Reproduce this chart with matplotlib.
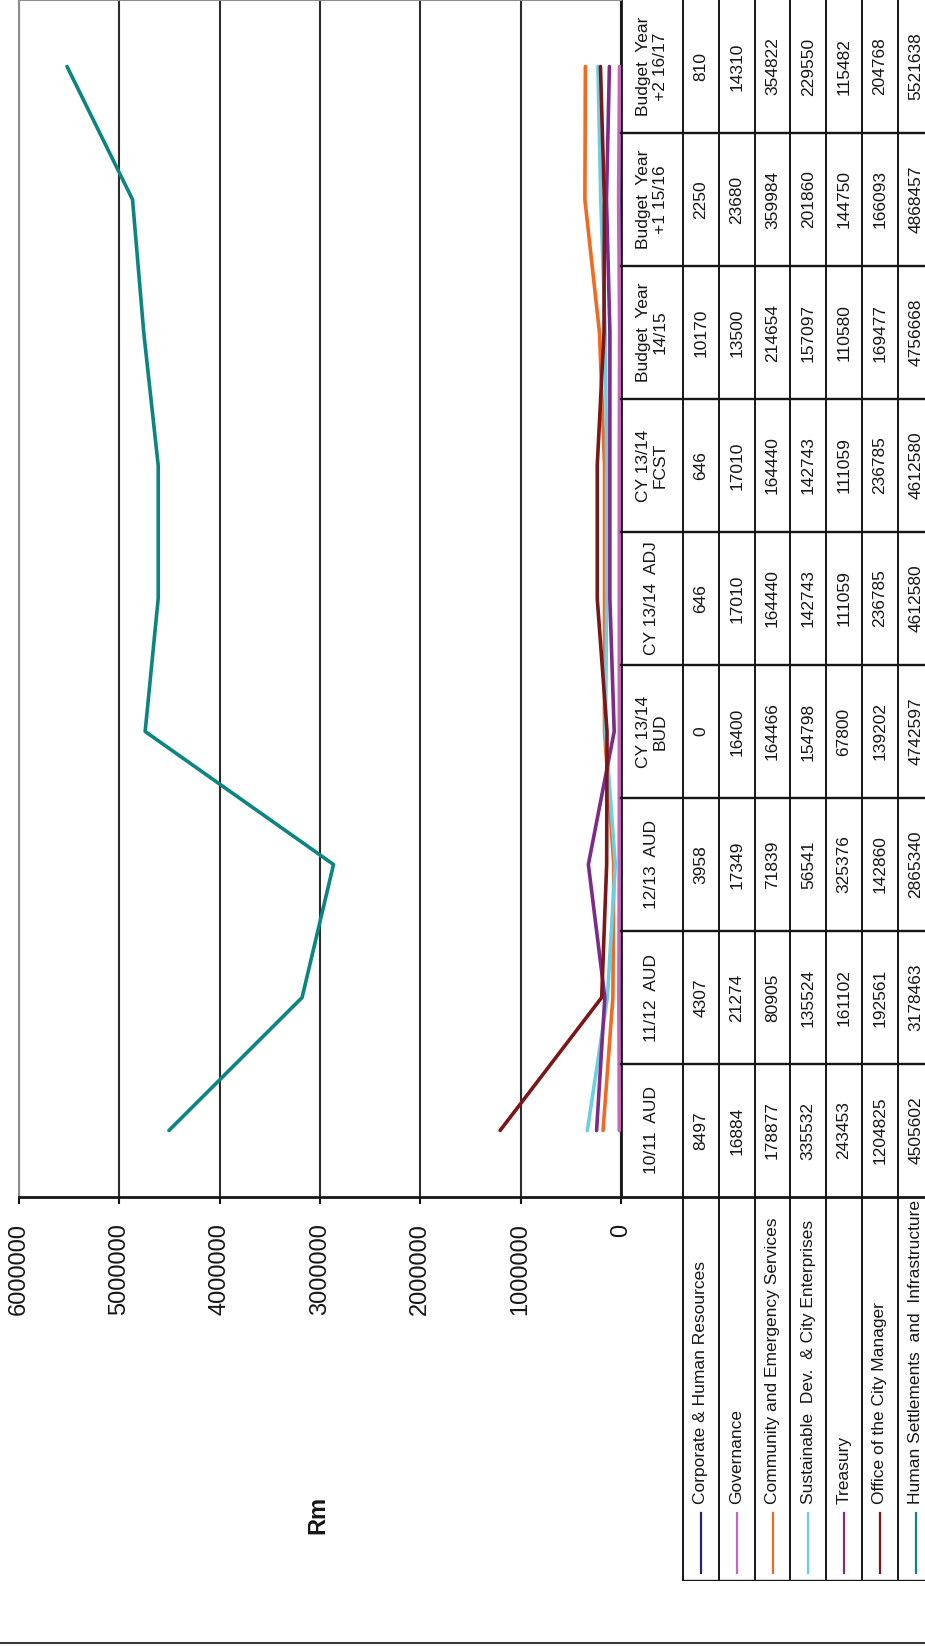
"""Capital budget per directorate, 10/11 to 16/17, drawn rotated like the source page."""
import matplotlib
matplotlib.use("Agg")
import matplotlib.pyplot as plt
from matplotlib.lines import Line2D

plt.rcParams['font.family'] = ['Liberation Sans', 'DejaVu Sans']

# data
periods = ["10/11  AUD", "11/12  AUD", "12/13  AUD", "CY 13/14\nBUD", "CY 13/14  ADJ",
           "CY 13/14\nFCST", "Budget  Year\n14/15", "Budget  Year\n+1 15/16",
           "Budget  Year\n+2 16/17"]
directorates = ["Corporate & Human Resources", "Governance",
                "Community and Emergency Services",
                "Sustainable  Dev.  & City Enterprises", "Treasury",
                "Office of the City Manager",
                "Human Settlements  and  Infrastructure"]
corporate = [8497, 4307, 3958, 0, 646, 646, 10170, 2250, 810]
governance = [16884, 21274, 17349, 16400, 17010, 17010, 13500, 23680, 14310]
community = [178877, 80905, 71839, 164466, 164440, 164440, 214654, 359984, 354822]
sustainable = [335532, 135524, 56541, 154798, 142743, 142743, 157097, 201860, 229550]
treasury = [243453, 161102, 325376, 67800, 111059, 111059, 110580, 144750, 115482]
city_manager = [1204825, 192561, 142860, 139202, 236785, 236785, 169477, 166093, 204768]
human_settlements = [4505602, 3178463, 2865340, 4742597, 4612580, 4612580, 4756668,
                     4868457, 5521638]
value_ticks = [0, 1000000, 2000000, 3000000, 4000000, 5000000, 6000000]

series = [corporate, governance, community, sustainable, treasury, city_manager,
          human_settlements]
colors = ["#23236e", "#c866b8", "#f26a21", "#6ccfe0", "#7e2a88", "#7d1619", "#0a8580"]

W, H = 925, 1646
ink = "#161616"


def box(left, top, right, bottom):
    return [left / W, 1 - bottom / H, (right - left) / W, (bottom - top) / H]


fig = plt.figure(figsize=(W / 100, H / 100), dpi=100)

# chart (value axis runs right to left, periods run bottom to top)
ax = fig.add_axes(box(19, 0, 621, 1197))
cats = list(range(len(periods)))
for vals, c in zip(series, colors):
    ax.plot(vals, cats, color=c, lw=2.6, solid_capstyle='round', zorder=3)

ax.set_xlim(6000000, 0)
ax.set_ylim(-0.5, len(periods) - 0.5)
ax.set_yticks([])
ax.set_xticks(value_ticks)
ax.set_xticklabels([str(v) for v in value_ticks], rotation=90, fontsize=17, color=ink)
ax.tick_params(axis='x', direction='out', length=5, width=1.5, pad=14, color=ink)
ax.set_axisbelow(True)
ax.xaxis.grid(True, color="#2b2b2b", lw=1.5)
for side in ['left', 'top']:
    ax.spines[side].set_color("#8c8c8c")
    ax.spines[side].set_linewidth(1.5)
for side in ['bottom', 'right']:
    ax.spines[side].set_color(ink)
    ax.spines[side].set_linewidth(2)

ax.set_xlabel("Rm", rotation=90, fontsize=17, fontweight='bold', color=ink,
              ha='center', va='center')
ax.xaxis.set_label_coords(0.497, -0.266)

# data table to the right, legend keys underneath
tax = fig.add_axes(box(621, 0, 925, 1581))
band = 1197 / len(periods)
y_low = -0.5 - (1581 - 1197) / band
tax.set_xlim(0, 304)
tax.set_ylim(y_low, len(periods) - 0.5)
tax.axis('off')
hw, rw = 62, 35.8

for k in range(len(periods)):
    tax.plot([0, 304], [k - 0.5, k - 0.5], color=ink, lw=2 if k == 0 else 1.7,
             clip_on=False)
tax.plot([hw, 304], [y_low, y_low], color=ink, lw=1.7)
for i in range(len(directorates) + 1):
    x = hw + i * rw
    tax.plot([x, x], [y_low, len(periods) - 0.5], color=ink, lw=1.4)

for j, p in enumerate(periods):
    tax.text(hw / 2, j, p, rotation=90, ha='center', va='center', ma='center',
             fontsize=12.5, color=ink, linespacing=1.15)

for i, (name, vals, c) in enumerate(zip(directorates, series, colors)):
    xc = hw + i * rw + rw / 2
    for j, v in enumerate(vals):
        tax.text(xc, j, str(v), rotation=90, ha='center', va='center',
                 fontsize=12.5, color=ink)
    tax.text(xc, -0.5 - (1504 - 1197) / band, name, rotation=90, ha='center',
             va='bottom', fontsize=12.5, color=ink)
    tax.plot([xc, xc], [-0.5 - (1513 - 1197) / band, -0.5 - (1573 - 1197) / band],
             color=c, lw=1.6)

# chart area frame, bottom edge
fig.add_artist(Line2D([0, 1], [3 / H, 3 / H], transform=fig.transFigure,
                      color="#3a3a3a", lw=1.5))

fig.savefig("out.png", dpi=100)
